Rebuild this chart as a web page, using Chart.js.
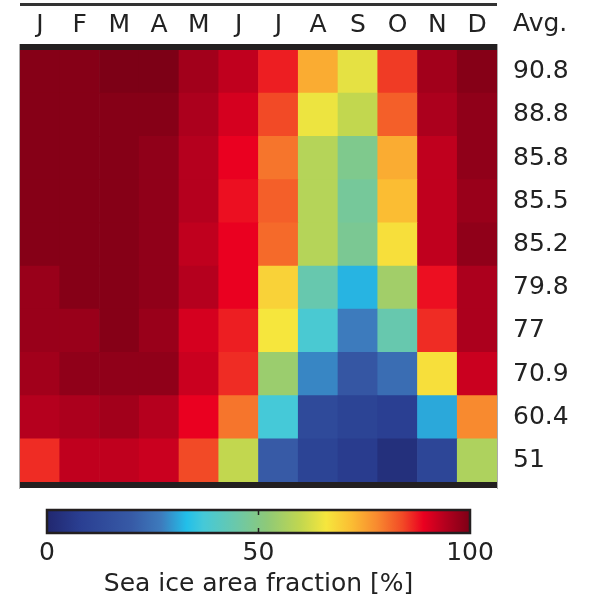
<!DOCTYPE html>
<html>
<head>
<meta charset="utf-8">
<script src="https://cdn.jsdelivr.net/npm/chart.js@4.4.1/dist/chart.umd.min.js"></script>
<style>
  body { margin: 0; background: #fff; }
  #wrap { position: relative; width: 590px; height: 609px; }
  #heat { position: absolute; left: 0; top: 0; }
  #bar { position: absolute; left: 0; top: 495px; }
</style>
</head>
<body>
<div id="wrap">
  <canvas id="heat" width="590" height="495"></canvas>
  <canvas id="bar" width="590" height="114"></canvas>
</div>
<script>
const months = ["J", "F", "M", "A", "M", "J", "J", "A", "S", "O", "N", "D"];
const avgLabels = ["90.8", "88.8", "85.8", "85.5", "85.2", "79.8", "77", "70.9", "60.4", "51"];

// sea ice area fraction [%], one row per line of the plot (top to bottom)
const row1 = [99, 99, 100, 100, 96, 93, 87, 74, 64, 85, 96, 99];
const row2 = [99, 99, 99, 99, 95, 91, 84, 65, 60, 82, 95, 98];
const row3 = [99, 99, 99, 98, 94, 89, 80, 58, 49, 74, 93, 98];
const row4 = [99, 99, 99, 98, 94, 88, 82, 58, 47, 72, 93, 97];
const row5 = [99, 99, 99, 98, 93, 89, 81, 58, 48, 67, 93, 98];
const row6 = [97, 99, 99, 98, 94, 89, 69, 44, 32, 55, 88, 95];
const row7 = [97, 97, 99, 97, 91, 87, 66, 38, 27, 44, 86, 95];
const row8 = [96, 98, 98, 98, 92, 86, 54, 28, 18, 24, 67, 92];
const row9 = [94, 95, 96, 94, 89, 80, 37, 13, 10, 8, 31, 78];
const row10 = [86, 93, 93, 92, 84, 60, 20, 10, 7, 3, 11, 57];
const rows = [row1, row2, row3, row4, row5, row6, row7, row8, row9, row10];

const barTicks = [0, 50, 100];

// colour map
const cmap = [
  [0.00, "#21276f"], [0.08, "#2a3f92"], [0.20, "#375aa6"], [0.27, "#3d7bbd"],
  [0.33, "#22bfe9"], [0.37, "#45c9d8"], [0.45, "#6cc8a8"], [0.52, "#8ec978"],
  [0.60, "#c2d74f"], [0.66, "#f6e63d"], [0.72, "#fbbd33"], [0.78, "#f88a2f"],
  [0.84, "#f24a26"], [0.89, "#ea0020"], [0.94, "#b5001e"], [1.00, "#7d0016"]
];

function hex(c) {
  return [parseInt(c.slice(1, 3), 16), parseInt(c.slice(3, 5), 16), parseInt(c.slice(5, 7), 16)];
}

function iceColor(v) {
  const t = Math.max(0, Math.min(1, v / 100));
  for (let i = 1; i < cmap.length; i++) {
    if (t <= cmap[i][0]) {
      const a = cmap[i - 1], b = cmap[i];
      const f = (t - a[0]) / (b[0] - a[0]);
      const ca = hex(a[1]), cb = hex(b[1]);
      const rgb = ca.map((x, k) => Math.round(x + (cb[k] - x) * f));
      return `rgb(${rgb[0]},${rgb[1]},${rgb[2]})`;
    }
  }
  return cmap[cmap.length - 1][1];
}

const FONT = "'DejaVu Sans', sans-serif";
const INK = "#222";

// bottom row is stacked first
const datasets = [];
for (let r = rows.length - 1; r >= 0; r--) {
  datasets.push({
    data: months.map(() => 1),
    backgroundColor: rows[r].map(iceColor),
    borderWidth: 0,
    barPercentage: 1,
    categoryPercentage: 1
  });
}

const framePlugin = {
  id: "frame",
  afterDatasetsDraw(chart) {
    const { ctx } = chart;
    const { left, right, top, bottom } = chart.chartArea;
    ctx.save();
    ctx.fillStyle = "#231f20";
    ctx.fillRect(left, top - 6, right - left, 6);
    ctx.fillRect(left, bottom, right - left, 6);
    ctx.fillStyle = "#333";
    ctx.fillRect(left, 3, right - left, 3);
    ctx.strokeStyle = "#aaa";
    ctx.lineWidth = 1;
    ctx.beginPath();
    ctx.moveTo(left - 0.5, top - 6); ctx.lineTo(left - 0.5, bottom + 7);
    ctx.moveTo(right + 0.5, top - 6); ctx.lineTo(right + 0.5, bottom + 7);
    ctx.stroke();
    ctx.fillStyle = INK;
    ctx.font = "25px " + FONT;
    ctx.textAlign = "left";
    ctx.textBaseline = "middle";
    ctx.fillText("Avg.", right + 16, 24);
    ctx.restore();
  }
};

new Chart(document.getElementById("heat"), {
  type: "bar",
  data: { labels: months, datasets },
  options: {
    responsive: false,
    animation: false,
    layout: { padding: { left: 20, right: 0, top: 0, bottom: 13 } },
    plugins: { legend: { display: false }, tooltip: { enabled: false } },
    scales: {
      x: {
        position: "top",
        stacked: true,
        grid: { display: false, drawTicks: false },
        border: { display: false },
        ticks: { font: { family: FONT, size: 25 }, color: INK, padding: 10, maxRotation: 0, autoSkip: false },
        afterFit: s => { s.height = 50; s.paddingLeft = 0; s.paddingRight = 0; }
      },
      y: {
        position: "right",
        stacked: true,
        min: 0,
        max: 10,
        grid: { display: false, drawTicks: false },
        border: { display: false },
        afterBuildTicks: s => { s.ticks = avgLabels.map((_, i) => ({ value: 9.5 - i })); },
        ticks: {
          font: { family: FONT, size: 25 }, color: INK, padding: 16,
          callback: v => avgLabels[Math.round(9.5 - v)]
        },
        afterFit: s => { s.width = 93; s.paddingTop = 0; s.paddingBottom = 0; }
      }
    }
  },
  plugins: [framePlugin]
});

// colour bar
const barFrame = {
  id: "barFrame",
  afterDatasetsDraw(chart) {
    const { ctx } = chart;
    const { left, right, top, bottom } = chart.chartArea;
    const xs = chart.scales.x;
    ctx.save();
    ctx.strokeStyle = "#231f20";
    ctx.lineWidth = 2.5;
    ctx.strokeRect(left, top, right - left, bottom - top);
    ctx.lineWidth = 1.5;
    ctx.beginPath();
    const mx = xs.getPixelForValue(50);
    ctx.moveTo(mx, top); ctx.lineTo(mx, top + 5);
    ctx.moveTo(mx, bottom); ctx.lineTo(mx, bottom - 5);
    ctx.stroke();
    ctx.restore();
  }
};

new Chart(document.getElementById("bar"), {
  type: "bar",
  data: {
    labels: [""],
    datasets: [{
      data: [[0, 100]],
      borderWidth: 0,
      barPercentage: 1,
      categoryPercentage: 1,
      backgroundColor: c => {
        const ca = c.chart.chartArea;
        if (!ca) return "#888";
        const g = c.chart.ctx.createLinearGradient(ca.left, 0, ca.right, 0);
        cmap.forEach(s => g.addColorStop(s[0], s[1]));
        return g;
      }
    }]
  },
  options: {
    indexAxis: "y",
    responsive: false,
    animation: false,
    layout: { padding: { left: 47, right: 120, top: 15, bottom: 0 } },
    plugins: { legend: { display: false }, tooltip: { enabled: false } },
    scales: {
      y: { display: false },
      x: {
        min: 0,
        max: 100,
        grid: { display: false, drawTicks: false },
        border: { display: false },
        afterBuildTicks: s => { s.ticks = barTicks.map(v => ({ value: v })); },
        ticks: { font: { family: FONT, size: 25 }, color: INK, padding: 5 },
        title: {
          display: true,
          text: "Sea ice area fraction [%]",
          font: { family: FONT, size: 25 },
          color: INK,
          padding: { top: 0, bottom: 10 }
        },
        afterFit: s => { s.height = 76; }
      }
    }
  },
  plugins: [barFrame]
});
</script>
</body>
</html>
